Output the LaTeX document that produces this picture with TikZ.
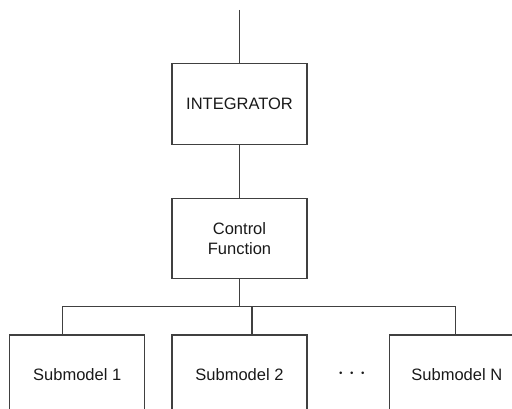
\documentclass[tikz,border=0pt]{standalone}
\usepackage{fontspec}
\setmainfont{Liberation Sans}
\usepackage{tikz}
\usetikzlibrary{positioning}

\begin{document}
\begin{tikzpicture}[x=1pt,y=1pt,
    line width=1.3pt,draw=black!75,
    box/.style={draw,minimum width=135pt,minimum height=81pt,
      align=center,inner sep=0pt,text=black!90,
      font=\fontsize{16.5}{20}\selectfont},
    subbox/.style={box,minimum height=78pt}]
    \useasboundingbox (0,0) rectangle (512,-408);
    \clip (0,0) rectangle (512,-408);
    \node[box] (int) at (239.5,-104) {INTEGRATOR};
    \node[box,minimum height=80pt,below=53pt of int] (ctrl) {Control\\Function};
    \node[subbox,below=55pt of ctrl] (sub2) {Submodel 2};
    \node[subbox,left=26pt of sub2] (sub1) {Submodel 1};
    \node[subbox,right=81pt of sub2] (subN) {Submodel N};
    \node[right=29pt of sub2,inner sep=0pt,text=black!90,
      font=\fontsize{26}{26}\selectfont] (dots) {$\cdots$};
    \coordinate[above=53pt of int] (in);
    \coordinate[below=27pt of ctrl] (bus);
    \coordinate[left=14.5pt of sub1.north] (d1);
    \coordinate[right=12.5pt of sub2.north] (d2);
    \coordinate[left=1.5pt of subN.north] (dN);
    \draw
      (in) edge (int)
      (int) edge (ctrl)
      (ctrl) edge (bus)
      (d1 |- bus) edge (dN |- bus)
      (d1 |- bus) edge (d1)
      (d2 |- bus) edge (d2)
      (dN |- bus) edge (dN);
\end{tikzpicture}
\end{document}
